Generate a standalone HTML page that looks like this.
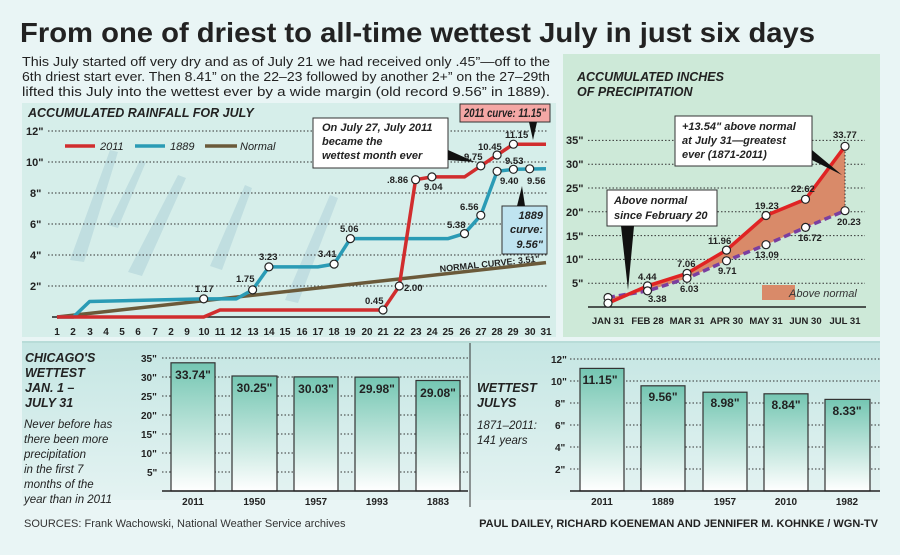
<!DOCTYPE html>
<html><head><meta charset="utf-8"><style>
body{margin:0;width:900px;height:550px;overflow:hidden;background:#e9f5f5;font-family:"Liberation Sans",sans-serif}
svg text{font-family:"Liberation Sans",sans-serif}
</style></head><body>
<svg width="900" height="550" xmlns="http://www.w3.org/2000/svg">
<defs>
<linearGradient id="bar" x1="0" y1="0" x2="0" y2="1"><stop offset="0" stop-color="#74c6b2"/><stop offset="1" stop-color="#ffffff"/></linearGradient>
<linearGradient id="bp" x1="0" y1="0" x2="0" y2="1"><stop offset="0" stop-color="#c5e6e3"/><stop offset="1" stop-color="#e4f3f2"/></linearGradient>
</defs>
<rect width="900" height="550" fill="#e9f5f5"/>
<text x="20" y="42" font-size="28" font-weight="bold" fill="#222" textLength="795" lengthAdjust="spacingAndGlyphs">From one of driest to all-time wettest July in just six days</text>
<g font-size="12.5" fill="#222">
<text x="22" y="66" textLength="528" lengthAdjust="spacingAndGlyphs">This July started off very dry and as of July 21 we had received only .45”—off to the</text>
<text x="22" y="81" textLength="528" lengthAdjust="spacingAndGlyphs">6th driest start ever. Then 8.41” on the 22–23 followed by another 2+” on the 27–29th</text>
<text x="22" y="96" textLength="528" lengthAdjust="spacingAndGlyphs">lifted this July into the wettest ever by a wide margin (old record 9.56” in 1889).</text>
</g>
<!-- left panel -->
<rect x="22" y="103" width="534" height="234" fill="#d6eeea"/>
<g fill="#b2d4da" opacity="0.6">
<path d="M70 260 L110 150 L118 152 L84 262 Z"/><path d="M108 225 L140 160 L146 162 L118 228Z"/><path d="M128 272 L178 175 L186 178 L142 276Z"/><path d="M210 266 L245 185 L252 188 L222 270Z"/><path d="M285 300 L330 195 L338 198 L298 303Z"/>
</g>
<text x="28" y="117" font-size="12.5" font-weight="bold" font-style="italic" fill="#222">ACCUMULATED RAINFALL FOR JULY</text>
<g stroke="#333" stroke-width="1" stroke-dasharray="1.5,2">
<line x1="48" y1="131" x2="548" y2="131"/><line x1="48" y1="162" x2="548" y2="162"/><line x1="48" y1="193" x2="548" y2="193"/><line x1="48" y1="224" x2="548" y2="224"/><line x1="48" y1="255" x2="548" y2="255"/><line x1="48" y1="286" x2="548" y2="286"/>
</g>
<g font-size="11" font-weight="bold" fill="#222">
<text x="26" y="135">12"</text><text x="26" y="166">10"</text><text x="30" y="197">8"</text><text x="30" y="228">6"</text><text x="30" y="259">4"</text><text x="30" y="290">2"</text>
</g>
<line x1="52" y1="317" x2="550" y2="317" stroke="#222" stroke-width="1.5"/>
<g font-size="10" font-weight="bold" fill="#222" text-anchor="middle">
<text x="57" y="335">1</text><text x="73" y="335">2</text><text x="90" y="335">3</text><text x="106" y="335">4</text><text x="122" y="335">5</text><text x="138" y="335">6</text><text x="155" y="335">7</text><text x="171" y="335">2</text><text x="187" y="335">9</text><text x="204" y="335">10</text><text x="220" y="335">11</text><text x="236" y="335">12</text><text x="253" y="335">13</text><text x="269" y="335">14</text><text x="285" y="335">15</text><text x="302" y="335">16</text><text x="318" y="335">17</text><text x="334" y="335">18</text><text x="350" y="335">19</text><text x="367" y="335">20</text><text x="383" y="335">21</text><text x="399" y="335">22</text><text x="416" y="335">23</text><text x="432" y="335">24</text><text x="448" y="335">25</text><text x="465" y="335">26</text><text x="481" y="335">27</text><text x="497" y="335">28</text><text x="513" y="335">29</text><text x="530" y="335">30</text><text x="546" y="335">31</text>
</g>
<line x1="57" y1="317" x2="546" y2="262.6" stroke="#6b5a3a" stroke-width="3.5"/>
<text x="440" y="272" font-size="9" font-weight="bold" fill="#222" transform="rotate(-6 440 272)">NORMAL CURVE: 3.51"</text>
<polyline fill="none" stroke="#2a9bb5" stroke-width="3.5" stroke-linejoin="round" points="57,317 73.3,317 89.6,301.5 203.7,298.9 236.3,298.9 252.6,289.9 268.9,266.9 317.8,266.9 334.1,264.1 350.4,238.6 448.2,238.6 464.5,233.6 480.8,215.3 497.1,171.3 513.4,169.3 546,168.8"/>
<polyline fill="none" stroke="#d12d2e" stroke-width="3.5" stroke-linejoin="round" points="57,317 203.7,317 220,310 383,310 399.3,286 415.6,179.7 431.9,176.9 464.5,176.9 480.8,165.9 497.1,155 513.4,144.2 546,144.2"/>
<g fill="#fff" stroke="#222" stroke-width="1.2">
<circle cx="203.7" cy="298.9" r="4"/><circle cx="252.6" cy="289.9" r="4"/><circle cx="268.9" cy="266.9" r="4"/><circle cx="334.1" cy="264.1" r="4"/><circle cx="350.4" cy="238.6" r="4"/><circle cx="464.5" cy="233.6" r="4"/><circle cx="480.8" cy="215.3" r="4"/><circle cx="497.1" cy="171.3" r="4"/><circle cx="513.4" cy="169.3" r="4"/><circle cx="529.7" cy="168.8" r="4"/>
<circle cx="383" cy="310" r="4"/><circle cx="399.3" cy="286" r="4"/><circle cx="415.6" cy="179.7" r="4"/><circle cx="431.9" cy="176.9" r="4"/><circle cx="480.8" cy="165.9" r="4"/><circle cx="497.1" cy="155" r="4"/><circle cx="513.4" cy="144.2" r="4"/>
</g>
<g font-size="9.5" font-weight="bold" fill="#222">
<text x="195" y="292">1.17</text><text x="236" y="282">1.75</text><text x="259" y="260">3.23</text><text x="318" y="257">3.41</text><text x="340" y="232">5.06</text><text x="447" y="228">5.38</text><text x="460" y="210">6.56</text><text x="500" y="184">9.40</text><text x="505" y="164">9.53</text><text x="527" y="184">9.56</text>
<text x="365" y="304">0.45</text><text x="404" y="291">2.00</text><text x="387" y="183">.8.86</text><text x="424" y="190">9.04</text><text x="464" y="160">9.75</text><text x="478" y="150">10.45</text><text x="505" y="138">11.15</text>
</g>
<!-- legend -->
<line x1="65" y1="146" x2="95" y2="146" stroke="#d12d2e" stroke-width="3.5"/><text x="100" y="150" font-size="11" font-style="italic" fill="#222">2011</text>
<line x1="135" y1="146" x2="165" y2="146" stroke="#2a9bb5" stroke-width="3.5"/><text x="170" y="150" font-size="11" font-style="italic" fill="#222">1889</text>
<line x1="205" y1="146" x2="237" y2="146" stroke="#6b5a3a" stroke-width="3.5"/><text x="240" y="150" font-size="11" font-style="italic" fill="#222">Normal</text>
<!-- callouts -->
<rect x="460" y="104" width="90" height="18" fill="#f4a7a5" stroke="#333"/>
<text x="464" y="117" font-size="12" font-weight="bold" font-style="italic" fill="#222" textLength="82" lengthAdjust="spacingAndGlyphs">2011 curve: 11.15"</text>
<path d="M529 122 L537 122 L533 140 Z" fill="#111"/>
<rect x="313" y="118" width="135" height="50" fill="#fff" stroke="#333"/>
<g font-size="11" font-weight="bold" font-style="italic" fill="#222"><text x="322" y="131">On July 27, July 2011</text><text x="322" y="145">became the</text><text x="322" y="159">wettest month ever</text></g>
<path d="M448 150 L448 160 L475 162 Z" fill="#111"/>
<rect x="502" y="206" width="45" height="48" fill="#bfe4f0" stroke="#333"/>
<g font-size="11" font-weight="bold" font-style="italic" fill="#222" text-anchor="end"><text x="543" y="219">1889</text><text x="543" y="233">curve:</text><text x="543" y="248">9.56"</text></g>
<path d="M517 206 L525 206 L522 186 Z" fill="#111"/>
<!-- right panel -->
<rect x="563" y="54" width="317" height="283" fill="#cde9d8"/>
<g font-size="12.5" font-weight="bold" font-style="italic" fill="#222"><text x="577" y="81">ACCUMULATED INCHES</text><text x="577" y="96">OF PRECIPITATION</text></g>
<g stroke="#333" stroke-width="1" stroke-dasharray="1.5,2">
<line x1="588" y1="140.4" x2="865" y2="140.4"/><line x1="588" y1="164.2" x2="865" y2="164.2"/><line x1="588" y1="188" x2="865" y2="188"/><line x1="588" y1="211.8" x2="865" y2="211.8"/><line x1="588" y1="235.6" x2="865" y2="235.6"/><line x1="588" y1="259.4" x2="865" y2="259.4"/><line x1="588" y1="283.2" x2="865" y2="283.2"/>
</g>
<g font-size="11" font-weight="bold" fill="#222"><text x="566" y="144">35"</text><text x="566" y="168">30"</text><text x="566" y="192">25"</text><text x="566" y="216">20"</text><text x="566" y="240">15"</text><text x="566" y="263">10"</text><text x="572" y="287">5"</text></g>
<line x1="588" y1="307" x2="866" y2="307" stroke="#222" stroke-width="1.5"/>
<g font-size="9.5" font-weight="bold" fill="#222" text-anchor="middle"><text x="608" y="324">JAN 31</text><text x="647.5" y="324">FEB 28</text><text x="687" y="324">MAR 31</text><text x="726.5" y="324">APR 30</text><text x="766" y="324">MAY 31</text><text x="805.5" y="324">JUN 30</text><text x="845" y="324">JUL 31</text></g>
<polygon fill="#d98a69" points="608,303.2 647.5,285.9 687,273.4 726.5,250.1 766,215.5 805.5,199.3 845,146.3 845,210.7 805.5,227.4 766,244.7 726.5,260.8 687,278.3 647.5,290.9 608,297.5"/>
<line x1="845" y1="148" x2="845" y2="210" stroke="#333" stroke-dasharray="1.5,2"/>
<polyline fill="none" stroke="#7a3fa0" stroke-width="3.5" stroke-dasharray="7,4" points="608,297.5 647.5,290.9 687,278.3 726.5,260.8 766,244.7 805.5,227.4 845,210.7"/>
<polyline fill="none" stroke="#e02424" stroke-width="3.5" points="608,303.2 647.5,285.9 687,273.4 726.5,250.1 766,215.5 805.5,199.3 845,146.3"/>
<g fill="#fff" stroke="#222" stroke-width="1.2">
<circle cx="608" cy="297.5" r="4"/><circle cx="608" cy="303.2" r="4"/><circle cx="647.5" cy="285.9" r="4"/><circle cx="647.5" cy="290.9" r="4"/><circle cx="687" cy="273.4" r="4"/><circle cx="687" cy="278.3" r="4"/><circle cx="726.5" cy="250.1" r="4"/><circle cx="726.5" cy="260.8" r="4"/><circle cx="766" cy="215.5" r="4"/><circle cx="766" cy="244.7" r="4"/><circle cx="805.5" cy="199.3" r="4"/><circle cx="805.5" cy="227.4" r="4"/><circle cx="845" cy="146.3" r="4"/><circle cx="845" cy="210.7" r="4"/>
</g>
<g font-size="9.5" font-weight="bold" fill="#222">
<text x="638" y="280">4.44</text><text x="648" y="302">3.38</text><text x="677" y="267">7.06</text><text x="680" y="292">6.03</text><text x="708" y="244">11.96</text><text x="718" y="274">9.71</text><text x="755" y="209">19.23</text><text x="755" y="258">13.09</text><text x="791" y="192">22.62</text><text x="798" y="241">16.72</text><text x="833" y="138">33.77</text><text x="837" y="225">20.23</text>
</g>
<rect x="675" y="116" width="137" height="50" fill="#fff" stroke="#333"/>
<g font-size="11" font-weight="bold" font-style="italic" fill="#222"><text x="682" y="130">+13.54" above normal</text><text x="682" y="144">at July 31—greatest</text><text x="682" y="158">ever (1871-2011)</text></g>
<path d="M812 150 L812 160 L842 175 Z" fill="#111"/>
<rect x="607" y="190" width="110" height="36" fill="#fff" stroke="#333"/>
<g font-size="11" font-weight="bold" font-style="italic" fill="#222"><text x="614" y="204">Above normal</text><text x="614" y="219">since February 20</text></g>
<path d="M621 226 L634 226 L628 290 Z" fill="#111"/>
<rect x="762" y="285" width="33" height="15" fill="#d98a69"/>
<text x="789" y="297" font-size="11" font-style="italic" fill="#333">Above normal</text>
<!-- bottom panels -->
<rect x="22" y="343" width="858" height="157" fill="url(#bp)"/>
<line x1="22" y1="342" x2="880" y2="342" stroke="#b8dcd8" stroke-width="2"/>
<line x1="470" y1="343" x2="470" y2="507" stroke="#333"/>
<g font-size="12.5" font-weight="bold" font-style="italic" fill="#222"><text x="25" y="362">CHICAGO'S</text><text x="25" y="377">WETTEST</text><text x="25" y="392">JAN. 1 –</text><text x="25" y="407">JULY 31</text></g>
<g font-size="11.5" font-style="italic" fill="#222"><text x="24" y="428">Never before has</text><text x="24" y="443">there been more</text><text x="24" y="458">precipitation</text><text x="24" y="473">in the first 7</text><text x="24" y="488">months of the</text><text x="24" y="503">year than in 2011</text></g>
<g stroke="#333" stroke-dasharray="1.5,2"><line x1="162" y1="358" x2="468" y2="358"/><line x1="162" y1="377" x2="468" y2="377"/><line x1="162" y1="396" x2="468" y2="396"/><line x1="162" y1="415" x2="468" y2="415"/><line x1="162" y1="434" x2="468" y2="434"/><line x1="162" y1="453" x2="468" y2="453"/><line x1="162" y1="472" x2="468" y2="472"/></g>
<g font-size="10" font-weight="bold" fill="#222"><text x="141" y="362">35"</text><text x="141" y="381">30"</text><text x="141" y="400">25"</text><text x="141" y="419">20"</text><text x="141" y="438">15"</text><text x="141" y="457">10"</text><text x="147" y="476">5"</text></g>
<g fill="url(#bar)" stroke="#333" stroke-width="1.2"><rect x="171" y="362.8" width="44" height="128.2"/><rect x="232" y="376" width="45" height="115"/><rect x="294" y="376.9" width="44" height="114.1"/><rect x="355" y="377.1" width="44" height="113.9"/><rect x="416" y="380.5" width="44" height="110.5"/></g>
<line x1="162" y1="491" x2="468" y2="491" stroke="#222" stroke-width="1.5"/>
<g font-size="12" font-weight="bold" fill="#222" text-anchor="middle"><text x="193" y="379">33.74"</text><text x="254.5" y="392">30.25"</text><text x="316" y="393">30.03"</text><text x="377" y="393">29.98"</text><text x="438" y="397">29.08"</text></g>
<g font-size="10" font-weight="bold" fill="#222" text-anchor="middle"><text x="193" y="505">2011</text><text x="254.5" y="505">1950</text><text x="316" y="505">1957</text><text x="377" y="505">1993</text><text x="438" y="505">1883</text></g>
<g font-size="12.5" font-weight="bold" font-style="italic" fill="#222"><text x="477" y="392">WETTEST</text><text x="477" y="407">JULYS</text></g>
<g font-size="11.5" font-style="italic" fill="#222"><text x="477" y="429">1871–2011:</text><text x="477" y="444">141 years</text></g>
<g stroke="#333" stroke-dasharray="1.5,2"><line x1="570" y1="359" x2="880" y2="359"/><line x1="570" y1="381" x2="880" y2="381"/><line x1="570" y1="403" x2="880" y2="403"/><line x1="570" y1="425" x2="880" y2="425"/><line x1="570" y1="447" x2="880" y2="447"/><line x1="570" y1="469" x2="880" y2="469"/></g>
<g font-size="10" font-weight="bold" fill="#222"><text x="551" y="363">12"</text><text x="551" y="385">10"</text><text x="555" y="407">8"</text><text x="555" y="429">6"</text><text x="555" y="451">4"</text><text x="555" y="473">2"</text></g>
<g fill="url(#bar)" stroke="#333" stroke-width="1.2"><rect x="580" y="368.4" width="44" height="122.6"/><rect x="641" y="385.8" width="44" height="105.2"/><rect x="703" y="392.2" width="44" height="98.8"/><rect x="764" y="393.8" width="44" height="97.2"/><rect x="825" y="399.4" width="45" height="91.6"/></g>
<line x1="570" y1="491" x2="880" y2="491" stroke="#222" stroke-width="1.5"/>
<g font-size="12" font-weight="bold" fill="#222" text-anchor="middle"><text x="600" y="384">11.15"</text><text x="663" y="401">9.56"</text><text x="725" y="407">8.98"</text><text x="786" y="409">8.84"</text><text x="847" y="415">8.33"</text></g>
<g font-size="10" font-weight="bold" fill="#222" text-anchor="middle"><text x="602" y="505">2011</text><text x="663" y="505">1889</text><text x="725" y="505">1957</text><text x="786" y="505">2010</text><text x="847" y="505">1982</text></g>
<text x="24" y="527" font-size="11" fill="#333">SOURCES: Frank Wachowski, National Weather Service archives</text>
<text x="878" y="527" font-size="11" font-weight="bold" fill="#222" text-anchor="end">PAUL DAILEY, RICHARD KOENEMAN AND JENNIFER M. KOHNKE / WGN-TV</text>
</svg>
</body></html>
